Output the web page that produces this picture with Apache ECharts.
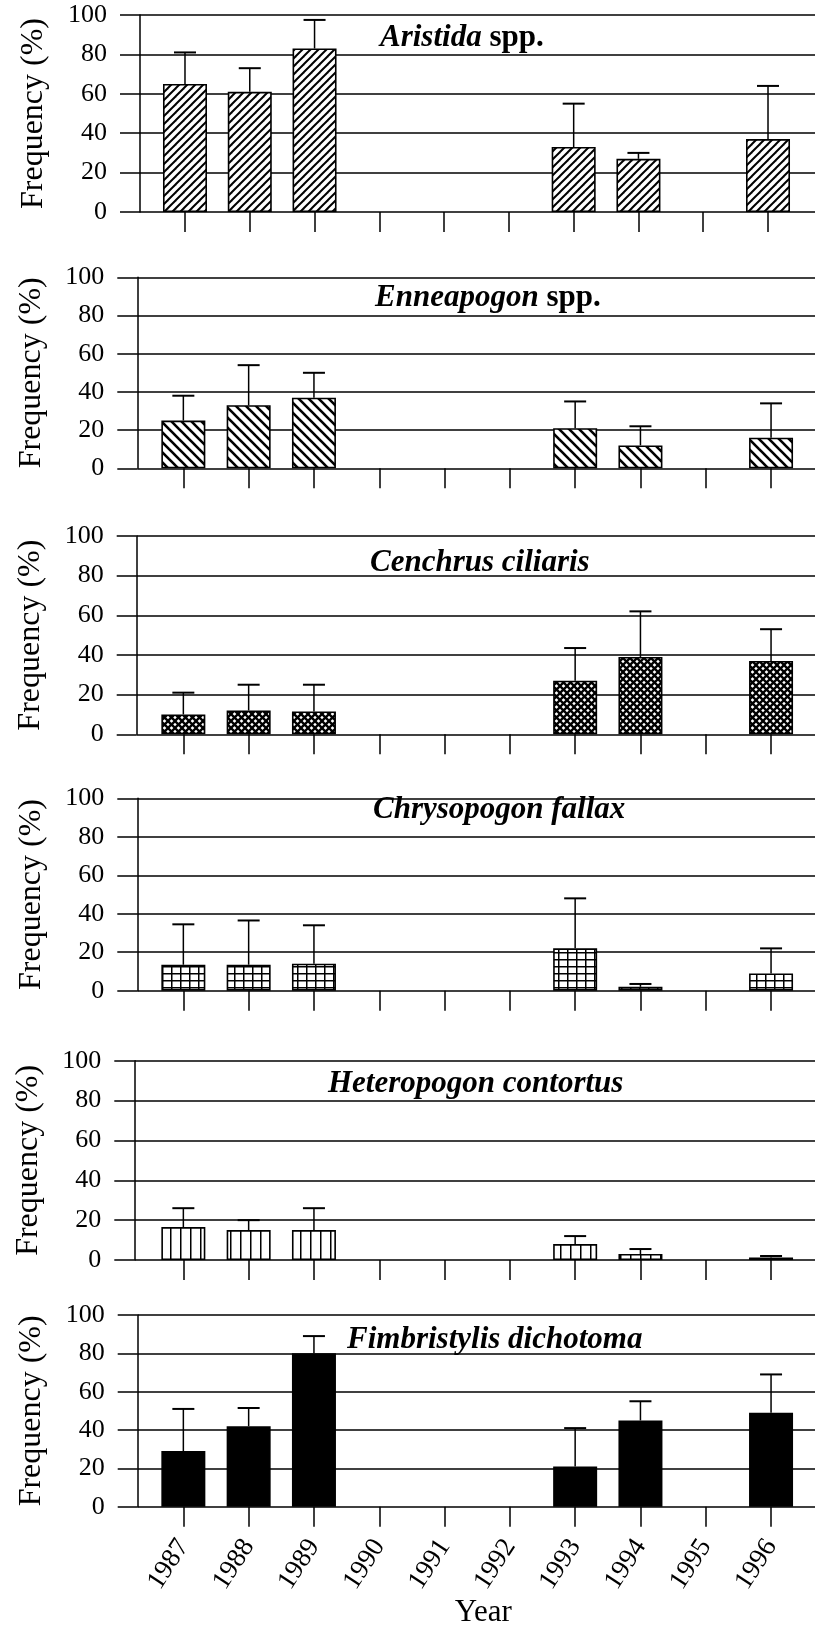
<!DOCTYPE html>
<html>
<head>
<meta charset="utf-8">
<script src="https://cdn.jsdelivr.net/npm/echarts@6/dist/echarts.min.js"></script>
<style>
  html, body { margin: 0; padding: 0; background: #fff; }
  #chart { width: 815px; height: 1625px; }
</style>
</head>
<body>
<div id="chart"></div>
<script>
// Survey years (x categories)
const years = ['1987', '1988', '1989', '1990', '1991', '1992', '1993', '1994', '1995', '1996'];
const yTicks = [0, 20, 40, 60, 80, 100];

// Mean frequency (%) per year; null = not surveyed
const aristidaMean     = [65, 61, 83, null, null, null, 33, 27, null, 37];
const aristidaSD       = [16, 12, 14.5, null, null, null, 22, 3, null, 27];
const enneapogonMean   = [25, 33, 37, null, null, null, 21, 12, null, 16];
const enneapogonSD     = [13, 21, 13, null, null, null, 14, 10, null, 18];
const cenchrusMean     = [10, 12, 11.5, null, null, null, 27, 39, null, 37];
const cenchrusSD       = [11, 13, 13.5, null, null, null, 16.5, 23, null, 16];
const chrysopogonMean  = [13.5, 13.5, 14, null, null, null, 22, 2, null, 9];
const chrysopogonSD    = [21, 23, 20, null, null, null, 26, 1.5, null, 13];
const heteropogonMean  = [16.5, 15, 15, null, null, null, 8, 3, null, 1.3];
const heteropogonSD    = [9.5, 5, 11, null, null, null, 4, 2.5, null, 0.7];
const fimbristylisMean = [29, 42, 80, null, null, null, 21, 45, null, 49];
const fimbristylisSD   = [22, 9.5, 9, null, null, null, 20, 10, null, 20];

const FONT = "Liberation Serif";

// Fill patterns for the bars
function makeTile(w, h, draw) {
  const c = document.createElement('canvas');
  c.width = w; c.height = h;
  const g = c.getContext('2d');
  g.fillStyle = '#fff'; g.fillRect(0, 0, w, h);
  g.strokeStyle = '#000';
  draw(g, w, h);
  return { image: c, repeat: 'repeat' };
}
function diag(g, s, dir) {
  // dir 1: '/', dir -1: '\'
  for (let k = -1; k <= 1; k++) {
    g.beginPath();
    if (dir > 0) { g.moveTo(k * s - 1, s + 1); g.lineTo(k * s + s + 1, -1); }
    else { g.moveTo(k * s - 1, -1); g.lineTo(k * s + s + 1, s + 1); }
    g.stroke();
  }
}
const patForward = makeTile(8, 8, (g, w) => { g.lineWidth = 2; diag(g, w, 1); });
const patBack = makeTile(10, 10, (g, w) => { g.lineWidth = 2.6; diag(g, w, -1); });
const patCross = makeTile(7, 7, (g, w) => { g.lineWidth = 2.3; diag(g, w, 1); diag(g, w, -1); });
const patGrid = makeTile(9, 7, (g, w, h) => {
  g.lineWidth = 1.5;
  g.beginPath(); g.moveTo(0.75, 0); g.lineTo(0.75, h); g.stroke();
  g.beginPath(); g.moveTo(0, 0.75); g.lineTo(w, 0.75); g.stroke();
});
const patVert = makeTile(10, 10, (g, w, h) => {
  g.lineWidth = 1.5;
  g.beginPath(); g.moveTo(0.75, 0); g.lineTo(0.75, h); g.stroke();
});

const panels = [
  { title: '{i|Aristida} {b|spp.}', mean: aristidaMean, sd: aristidaSD, fill: patForward },
  { title: '{i|Enneapogon} {b|spp.}', mean: enneapogonMean, sd: enneapogonSD, fill: patBack },
  { title: '{i|Cenchrus ciliaris}', mean: cenchrusMean, sd: cenchrusSD, fill: patCross },
  { title: '{i|Chrysopogon fallax}', mean: chrysopogonMean, sd: chrysopogonSD, fill: patGrid },
  { title: '{i|Heteropogon contortus}', mean: heteropogonMean, sd: heteropogonSD, fill: patVert },
  { title: '{i|Fimbristylis dichotoma}', mean: fimbristylisMean, sd: fimbristylisSD, fill: '#000' }
];

// Panel placement (pixels)
const layout = [
  { top: 15,    bottom: 212,    axisX: 140,   catL: 152.6, catR: 800.4, tx: 380, ty: 22 },
  { top: 277.3, bottom: 468.3,  axisX: 137.3, catL: 150.7, catR: 803.7, tx: 375, ty: 282 },
  { top: 536,   bottom: 734.3,  axisX: 136.7, catL: 150.7, catR: 803.7, tx: 370, ty: 547 },
  { top: 798.3, bottom: 990.7,  axisX: 137.3, catL: 150.7, catR: 803.7, tx: 373, ty: 794 },
  { top: 1060.7, bottom: 1260,  axisX: 134.3, catL: 150.7, catR: 803.7, tx: 328, ty: 1068 },
  { top: 1315,  bottom: 1506.7, axisX: 137.7, catL: 150.7, catR: 803.7, tx: 347, ty: 1324 }
];

const W = 815;
const grid = [], xAxis = [], yAxis = [], series = [], title = [];
const axisLineStyle = { color: '#000', width: 1.5 };

function renderErr(params, api) {
  const x = api.value(0), m = api.value(1), s = api.value(2);
  const p0 = api.coord([x, m]);
  const p1 = api.coord([x, m + s]);
  const half = 11;
  return {
    type: 'group',
    children: [
      { type: 'line', shape: { x1: p0[0], y1: p0[1], x2: p1[0], y2: p1[1] }, style: { stroke: '#000', lineWidth: 1.5 } },
      { type: 'line', shape: { x1: p1[0] - half, y1: p1[1], x2: p1[0] + half, y2: p1[1] }, style: { stroke: '#000', lineWidth: 2 } }
    ]
  };
}

panels.forEach((p, i) => {
  const L = layout[i];
  const h = L.bottom - L.top;
  const last = i === panels.length - 1;
  const gA = i * 2, gB = i * 2 + 1;

  // Frame grid: value axis, gridlines, axis title
  grid.push({ left: L.axisX, top: L.top, width: W - L.axisX, height: h, containLabel: false, outerBoundsMode: 'none' });
  // Bar grid: category positions
  grid.push({ left: L.catL, top: L.top, width: L.catR - L.catL, height: h, containLabel: false, outerBoundsMode: 'none' });

  xAxis.push({ gridIndex: gA, type: 'value', min: 0, max: 1, show: false });
  xAxis.push({
    gridIndex: gB, type: 'category', data: years,
    axisLine: { show: false },
    axisTick: { show: true, alignWithLabel: true, length: 20, lineStyle: axisLineStyle },
    axisLabel: last ? { show: true, rotate: 57, margin: 35, fontSize: 27, fontFamily: FONT, color: '#000' } : { show: false },
    splitLine: { show: false },
    name: last ? 'Year' : '',
    nameLocation: 'middle', nameGap: 90,
    nameTextStyle: { fontSize: 31, fontFamily: FONT, color: '#000', padding: [0, 0, 0, 12] }
  });

  yAxis.push({
    gridIndex: gA, type: 'value', min: yTicks[0], max: yTicks[yTicks.length - 1], interval: 20,
    axisLine: { show: true, lineStyle: axisLineStyle },
    axisTick: { show: true, length: 20, lineStyle: axisLineStyle },
    axisLabel: { margin: 33, fontSize: 26, fontFamily: FONT, color: '#000' },
    splitLine: { show: true, lineStyle: axisLineStyle },
    name: 'Frequency (%)', nameLocation: 'middle', nameRotate: 90, nameGap: 90,
    nameTextStyle: { fontSize: 32, fontFamily: FONT, color: '#000' }
  });
  yAxis.push({ gridIndex: gB, type: 'value', min: 0, max: 100, show: false });

  series.push({
    type: 'bar', xAxisIndex: gB, yAxisIndex: gB,
    data: p.mean, barWidth: 44,
    itemStyle: { color: p.fill, borderColor: '#000', borderWidth: 1.6 },
    silent: true, animation: false, z: 3
  });
  series.push({
    type: 'custom', xAxisIndex: gB, yAxisIndex: gB,
    data: p.mean.map((m, k) => (m == null ? null : [k, m, p.sd[k]])).filter(d => d),
    renderItem: renderErr, clip: false, silent: true, animation: false, z: 4
  });

  title.push({
    text: p.title, left: L.tx, top: L.ty, padding: 0,
    textStyle: {
      fontFamily: FONT, fontSize: 31, color: '#000',
      rich: {
        i: { fontFamily: FONT, fontSize: 31, fontStyle: 'italic', fontWeight: 'bold', color: '#000' },
        b: { fontFamily: FONT, fontSize: 31, fontWeight: 'bold', color: '#000' }
      }
    }
  });
});

const chart = echarts.init(document.getElementById('chart'), null, { renderer: 'canvas' });
chart.setOption({
  animation: false,
  backgroundColor: '#fff',
  textStyle: { fontFamily: FONT },
  title, grid, xAxis, yAxis, series
});
</script>
</body>
</html>
